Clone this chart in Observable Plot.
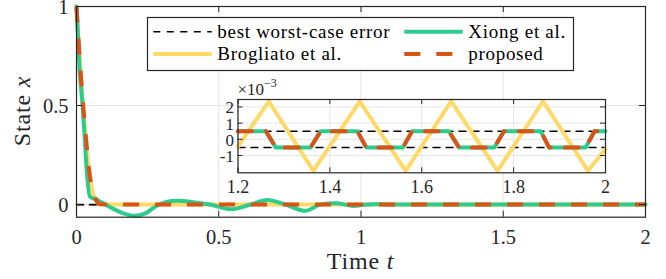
<!DOCTYPE html>
<html><head><meta charset="utf-8">
<script src="https://cdn.jsdelivr.net/npm/d3@7"></script>
<script src="https://cdn.jsdelivr.net/npm/@observablehq/plot@0.6"></script>
<style>
html,body{margin:0;padding:0;background:#fff;}
#chart{position:relative;width:666px;height:279px;font-family:"Liberation Serif",serif;}
#chart svg{position:absolute;left:0;top:0;overflow:visible;}
#chart svg text{font-family:"Liberation Serif",serif;}
</style></head><body><div id="chart"></div>
<script>
// ---------- data ----------
const mainTicksX = [0, 0.5, 1, 1.5, 2];
const mainTickLabelsX = ["0", "0.5", "1", "1.5", "2"];
const mainTicksY = [0, 0.5, 1];
const mainTickLabelsY = ["0", "0.5", "1"];

const insetTicksX = [1.2, 1.4, 1.6, 1.8, 2];
const insetTickLabelsX = ["1.2", "1.4", "1.6", "1.8", "2"];
const insetTicksY = [-1, 0, 1, 2];
const insetTickLabelsY = ["-1", "0", "1", "2"];

const seriesNames = ["best worst-case error", "Xiong et al.", "Brogliato et al.", "proposed"];
const seriesColors = ["#000000", "#2ecc8c", "#ffd966", "#d95319"];

// best worst-case error bound (x10^-3)
const bestBound = 0.5;
const bestT = [0, 2];

// main panel (state x)
const xiongT = [0, 0.005, 0.0105, 0.020, 0.028, 0.035, 0.047, 0.07, 0.117, 0.16, 0.205, 0.24, 0.281, 0.352, 0.41, 0.469, 0.542, 0.612, 0.670, 0.735, 0.805, 0.858, 0.911, 0.975, 1.0, 1.04, 1.1, 1.2, 1.4, 1.6, 1.8, 2.0];
const xiongX = [1, 0.862, 0.693, 0.525, 0.357, 0.19, 0.04, 0.025, -0.012, -0.042, -0.057, -0.046, -0.007, 0.019, 0.012, 0, -0.024, 0, 0.023, 0, -0.032, 0, 0.006, -0.007, -0.003, 0.002, 0, 0, 0, 0, 0, 0];

const brogT = [0, 0.006, 0.012, 0.023, 0.032, 0.043, 0.053, 0.062, 0.072, 0.085, 0.1, 2.0];
const brogX = [1, 0.86, 0.72, 0.5, 0.357, 0.19, 0.09, 0.04, 0.012, 0, 0, 0];

const propT = [0, 0.006, 0.012, 0.0235, 0.032, 0.043, 0.052, 0.061, 0.07, 0.08, 0.1, 2.0];
const propX = [1, 0.86, 0.72, 0.5, 0.357, 0.19, 0.1, 0.05, 0.02, 0.002, 0, 0];

// inset (values in 10^-3)
const brogInsetT = [1.2, 1.267, 1.364, 1.465, 1.565, 1.664, 1.765, 1.864, 1.962, 2.0];
const brogInsetX = [-0.45, 2.35, -1.95, 2.35, -1.95, 2.35, -1.95, 2.35, -1.95, -0.6];

const switchT = [1.2, 1.261, 1.282, 1.358, 1.380, 1.460, 1.479, 1.559, 1.579, 1.659, 1.681, 1.758, 1.779, 1.859, 1.877, 1.957, 1.976, 2.0];
const xiongInsetX = [0.5, 0.5, -0.5, -0.5, 0.5, 0.5, -0.5, -0.5, 0.5, 0.5, -0.5, -0.5, 0.5, 0.5, -0.5, -0.5, 0.5, 0.5];
const propInsetX = [0.5, 0.5, -0.5, -0.5, 0.5, 0.5, -0.5, -0.5, 0.5, 0.5, -0.5, -0.5, 0.5, 0.5, -0.5, -0.5, 0.5, 0.5];

// ---------- helpers ----------
const pts = (T, X, k = 1) => T.map((t, i) => ({t, v: X[i] * k}));
const W = 666, H = 279;
const axisColor = "#262626", gridColor = "#e5e5e5";
const font = "'Liberation Serif', serif";

// ---------- main plot ----------
const mL = 76, mR = 21, mT = 6, mB = 62.3;
const frameH = H - mT - mB, frameW = W - mL - mR;
const tk = 6;
const yMin = -0.064, yMax = 1;

const main = Plot.plot({
  width: W, height: H,
  marginLeft: mL, marginRight: mR, marginTop: mT, marginBottom: mB,
  style: {background: "white", fontFamily: font, overflow: "visible"},
  x: {domain: [0, 2], axis: null},
  y: {domain: [yMin, yMax], axis: null},
  marks: [
    Plot.ruleX(mainTicksX, {x: d => d, stroke: gridColor, strokeWidth: 1}),
    Plot.ruleY(mainTicksY, {y: d => d, stroke: gridColor, strokeWidth: 1}),
    Plot.line(pts(bestT, [bestBound, bestBound], 1e-3), {x: "t", y: "v", stroke: seriesColors[0], strokeWidth: 1.5, strokeDasharray: "7,6"}),
    Plot.line(pts(bestT, [-bestBound, -bestBound], 1e-3), {x: "t", y: "v", stroke: seriesColors[0], strokeWidth: 1.5, strokeDasharray: "7,6"}),
    Plot.line(pts(brogT, brogX), {x: "t", y: "v", stroke: seriesColors[2], strokeWidth: 4, curve: "monotone-x", strokeLinecap: "round"}),
    Plot.line(pts(xiongT, xiongX), {x: "t", y: "v", stroke: seriesColors[1], strokeWidth: 4, curve: "monotone-x", strokeLinecap: "round"}),
    Plot.line(pts(propT, propX), {x: "t", y: "v", stroke: seriesColors[3], strokeWidth: 4, curve: "monotone-x", strokeDasharray: "16,16", strokeLinecap: "butt"}),
    Plot.frame({stroke: axisColor, strokeWidth: 1.2}),
    Plot.tickX(mainTicksX, {x: d => d, insetTop: frameH - tk, stroke: axisColor}),
    Plot.tickX(mainTicksX, {x: d => d, insetBottom: frameH - tk, stroke: axisColor}),
    Plot.tickY(mainTicksY, {y: d => d, insetRight: frameW - tk, stroke: axisColor}),
    Plot.tickY(mainTicksY, {y: d => d, insetLeft: frameW - tk, stroke: axisColor}),
    Plot.text(mainTicksX, {x: d => d, y: () => yMin, dy: 20, text: (d, i) => mainTickLabelsX[i], fontSize: 20.5, fill: axisColor, textAnchor: "middle"}),
    Plot.text(mainTicksY, {x: () => 0, y: d => d, dx: -8, dy: 1, text: (d, i) => mainTickLabelsY[i], fontSize: 20.5, fill: axisColor, textAnchor: "end"})
  ]
});

// ---------- inset plot ----------
const iL = 237.5, iRgt = 605, iT = 99, iBot = 172.3;
const iFrameH = iBot - iT, iFrameW = iRgt - iL;
const itk = 5;
const iyMin = -2.07, iyMax = 2.46;
const inset = Plot.plot({
  width: W, height: H,
  marginLeft: iL, marginRight: W - iRgt, marginTop: iT, marginBottom: H - iBot,
  style: {background: "transparent", fontFamily: font, overflow: "visible"},
  x: {domain: [1.2, 2], axis: null},
  y: {domain: [iyMin, iyMax], axis: null},
  marks: [
    Plot.frame({fill: "white", stroke: "none"}),
    Plot.ruleX(insetTicksX, {x: d => d, stroke: gridColor}),
    Plot.ruleY(insetTicksY, {y: d => d, stroke: gridColor}),
    Plot.line(pts([1.2, 2], [bestBound, bestBound]), {x: "t", y: "v", stroke: seriesColors[0], strokeWidth: 1.5, strokeDasharray: "7,6"}),
    Plot.line(pts([1.2, 2], [-bestBound, -bestBound]), {x: "t", y: "v", stroke: seriesColors[0], strokeWidth: 1.5, strokeDasharray: "7,6"}),
    Plot.line(pts(brogInsetT, brogInsetX), {x: "t", y: "v", stroke: seriesColors[2], strokeWidth: 4, strokeLinecap: "round", strokeLinejoin: "round"}),
    Plot.line(pts(switchT, xiongInsetX), {x: "t", y: "v", stroke: seriesColors[1], strokeWidth: 4, strokeLinecap: "round", strokeLinejoin: "round"}),
    Plot.line(pts(switchT, propInsetX), {x: "t", y: "v", stroke: seriesColors[3], strokeWidth: 4, strokeDasharray: "14,14", strokeLinejoin: "round"}),
    Plot.frame({stroke: axisColor, strokeWidth: 1.2}),
    Plot.tickX(insetTicksX, {x: d => d, insetTop: iFrameH - itk, stroke: axisColor}),
    Plot.tickX(insetTicksX, {x: d => d, insetBottom: iFrameH - itk, stroke: axisColor}),
    Plot.tickY(insetTicksY, {y: d => d, insetRight: iFrameW - itk, stroke: axisColor}),
    Plot.tickY(insetTicksY, {y: d => d, insetLeft: iFrameW - itk, stroke: axisColor}),
    Plot.text(insetTicksX, {x: d => d, y: () => iyMin, dy: 14, text: (d, i) => insetTickLabelsX[i], fontSize: 18, fill: axisColor, textAnchor: "middle"}),
    Plot.text(insetTicksY, {x: () => 1.2, y: d => d, dx: -4, dy: 1, text: (d, i) => insetTickLabelsY[i], fontSize: 17, fill: axisColor, textAnchor: "end"})
  ]
});

const root = document.getElementById("chart");
root.appendChild(main);
root.appendChild(inset);

// ---------- axis labels (main) ----------
const ms = d3.select(main);
const xl = ms.append("text").attr("x", mL + frameW / 2).attr("y", 269)
  .attr("text-anchor", "middle").attr("font-size", 24).attr("letter-spacing", 0.8)
  .attr("fill", axisColor).style("font-family", font);
xl.append("tspan").text("Time ");
xl.append("tspan").attr("font-style", "italic").text("t");

const yl = ms.append("text").attr("transform", "translate(30,111) rotate(-90)")
  .attr("text-anchor", "middle").attr("font-size", 24).attr("letter-spacing", 0.8)
  .attr("fill", axisColor).style("font-family", font);
yl.append("tspan").text("State ");
yl.append("tspan").attr("font-style", "italic").text("x");

// ---------- exponent label (inset) ----------
const is = d3.select(inset);
const ex = is.append("text").attr("x", iL).attr("y", 95).attr("font-size", 17)
  .attr("text-anchor", "start").attr("fill", axisColor).style("font-family", font);
ex.append("tspan").text("×10");
ex.append("tspan").attr("font-size", 12).attr("dy", -8).text("−3");

// ---------- legend ----------
const lg = ms.append("g").attr("font-size", 19).attr("letter-spacing", 0.7)
  .attr("text-anchor", "start").attr("fill", "#000").style("font-family", font);
lg.append("rect").attr("x", 147.5).attr("y", 17.5).attr("width", 426).attr("height", 53)
  .attr("fill", "white").attr("stroke", axisColor).attr("stroke-width", 1.2);
const rowsY = [31.7, 54];
const colX = [153.3, 404.3];
const entries = [
  {i: 0, r: 0, c: 0, w: 1.5, dash: "7,6.5"},
  {i: 1, r: 0, c: 1, w: 4, dash: null},
  {i: 2, r: 1, c: 0, w: 4, dash: null},
  {i: 3, r: 1, c: 1, w: 4, dash: "16,16"}
];
for (const e of entries) {
  const x0 = colX[e.c], y0 = rowsY[e.r];
  const ln = lg.append("line").attr("x1", x0).attr("x2", x0 + 58.4).attr("y1", y0).attr("y2", y0)
    .attr("stroke", seriesColors[e.i]).attr("stroke-width", e.w);
  if (e.dash) ln.attr("stroke-dasharray", e.dash);
  lg.append("text").attr("x", x0 + 64).attr("y", y0 + 6).attr("text-anchor", "start").text(seriesNames[e.i]);
}
</script></body></html>
